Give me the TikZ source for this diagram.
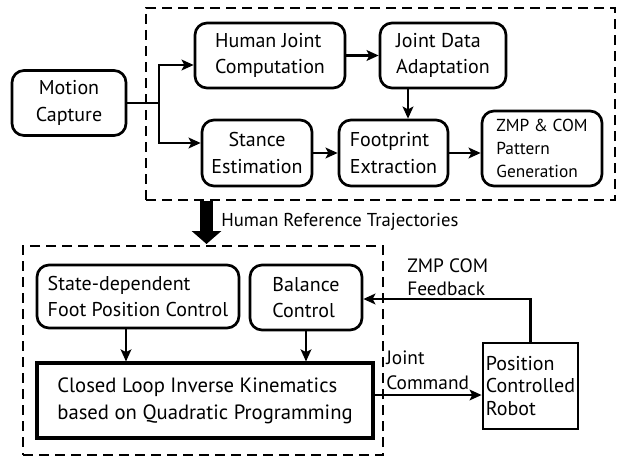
\documentclass[tikz,border=0pt]{standalone}
\usepackage{fontspec}
\setmainfont{PT Sans}
\usetikzlibrary{arrows.meta,calc,positioning}
\def\pxu{0.75pt}
\tikzset{
  block/.style={draw, line width=2pt, rounded corners=9pt, align=left, inner sep=0pt,
    font=\fontsize{15}{20}\selectfont},
  plainblock/.style={draw, line width=2.3pt, align=left, inner sep=0pt,
    font=\fontsize{15.5}{20}\selectfont},
  dashbox/.style={draw, line width=1.5pt, dash pattern=on 7.5pt off 4.5pt, inner sep=0pt},
  arr/.style={line width=2pt, -{Stealth[length=9pt, width=8pt, inset=2pt]}},
  lbl/.style={inner sep=0pt, align=left, font=\fontsize{14.5}{18}\selectfont},
  bigarr/.style={line width=9.75pt, -{Triangle[length=9.75pt, width=21.75pt]}}
}
\begin{document}
\begin{tikzpicture}[x=0.75pt, y=-0.75pt]
\useasboundingbox (0,0) rectangle (624,460);
% dashed groups
\node[dashbox, minimum width=469*\pxu, minimum height=192*\pxu] (topbox) at (380.5,104) {};
\node[dashbox, minimum width=360*\pxu, minimum height=209*\pxu] (botbox) at (203,350.5) {};
% upper stage blocks
\node[block, align=center, minimum width=114*\pxu, minimum height=65*\pxu] (mc) at (69,103) {Motion\\Capture};
\node[block, minimum width=150*\pxu, minimum height=65*\pxu] (hjc) at (270,55.5) {Human Joint\\Computation};
\node[block, minimum width=126*\pxu, minimum height=65*\pxu] (jda) at (443,55.5) {Joint Data\\Adaptation};
\node[block, align=center, minimum width=110*\pxu, minimum height=66*\pxu] (se) at (257,153) {Stance\\Estimation};
\node[block, minimum width=109*\pxu, minimum height=66*\pxu] (fe) at (393.5,153) {Footprint\\Extraction};
\node[block, minimum width=120*\pxu, minimum height=75*\pxu, font=\fontsize{13}{17}\selectfont] (zmp) at (542,148.5) {ZMP \& COM\\Pattern\\Generation};
% lower stage blocks
\node[block, minimum width=202*\pxu, minimum height=63*\pxu] (sdf) at (138,296.5) {State-dependent\\Foot Position Control};
\node[block, minimum width=112*\pxu, minimum height=65*\pxu] (bc) at (306,297.5) {Balance\\Control};
\node[plainblock, minimum width=336*\pxu, minimum height=75*\pxu] (clik) at (205,400.5) {Closed Loop Inverse Kinematics\\based on Quadratic Programming};
\node[plainblock, line width=2.1pt, minimum width=95*\pxu, minimum height=86*\pxu, font=\fontsize{15}{17}\selectfont] (pcr) at (530.5,386) {Position\\Controlled\\Robot};
% upper connectors
\coordinate (j) at (159,103);
\draw[line width=2pt] (mc.east) -- (j);
\draw[arr] (j) |- ($(hjc.west)+(0,9.5)$);
\draw[arr] (j) |- ($(se.west)+(0,-10)$);
\draw[arr] (hjc.east) -- (jda.west);
\coordinate (jdaout) at ($(jda.south)+(-35,0)$);
\draw[arr] (jdaout) -- (jdaout |- fe.north);
\draw[arr] (se.east) -- (fe.west);
\draw[arr] (fe.east) -- (fe.east -| zmp.west);
% hand-over between stages
\coordinate (bx) at (206.5,0);
\draw[bigarr] (topbox.south -| bx) -- ($(botbox.north -| bx)+(0,-1)$);
\node[lbl, anchor=west, font=\fontsize{14}{17}\selectfont] (hrt) at (221,222) {Human Reference Trajectories};
% lower connectors
\coordinate (sdfout) at ($(sdf.south)+(-12,0)$);
\draw[arr] (sdfout) -- (sdfout |- clik.north);
\draw[arr] (bc.south) -- (bc.south |- clik.north);
\coordinate (cmdout) at ($(clik.east)+(0,-5.5)$);
\draw[arr] (cmdout) -- (cmdout -| pcr.west);
\node[lbl, anchor=west, font=\fontsize{14.5}{19}\selectfont] (jc) at (386,370) {Joint\\Command};
\draw[arr] (pcr.north) |- ($(bc.east)+(0,1.5)$);
\node[lbl, anchor=west, font=\fontsize{14.5}{17}\selectfont] (fb) at (407,277) {ZMP COM\\Feedback};
\end{tikzpicture}
\end{document}
